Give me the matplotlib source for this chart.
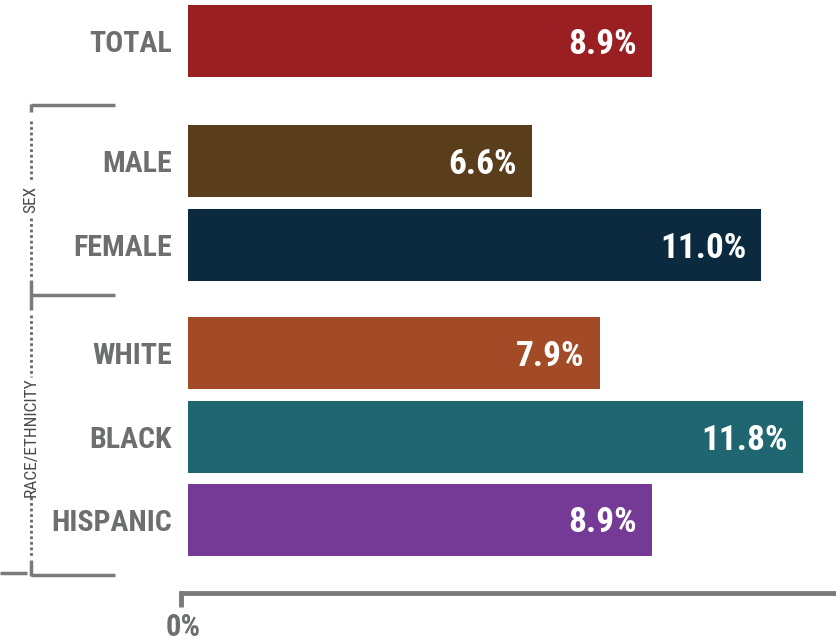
import matplotlib.pyplot as plt
from matplotlib.lines import Line2D

# prevalence by group (%)
categories = ['TOTAL', 'MALE', 'FEMALE', 'WHITE', 'BLACK', 'HISPANIC']
values = [8.9, 6.6, 11.0, 7.9, 11.8, 8.9]
value_labels = ['8.9%', '6.6%', '11.0%', '7.9%', '11.8%', '8.9%']
colors = ['#9a1f23', '#5a3d1b', '#0b2a3f', '#a34b26', '#206670', '#743a96']

# row centres (pixel rows from the top of the figure)
rows = [41, 161, 245, 353, 437, 520]

W, H = 836, 641
px_per_pct = 52.13
bar_left = 188
grey = '#6d6e70'
line_grey = '#7a7a7a'
font = ['Roboto Condensed', 'Liberation Sans Narrow', 'DejaVu Sans']
stretch = 'condensed'

fig = plt.figure(figsize=(W / 100, H / 100), dpi=100)
fig.patch.set_facecolor('white')

# bar axes: x in percent, y in pixel rows
ax = fig.add_axes([bar_left / W, 0, (W - bar_left) / W, 1])
ax.set_xlim(0, (W - bar_left) / px_per_pct)
ax.set_ylim(H, 0)
ax.axis('off')

ax.barh(rows, values, height=72, color=colors, align='center')

for y, v, lab in zip(rows, values, value_labels):
    ax.text(v - 15 / px_per_pct, y + 12.5, lab, color='white', fontsize=25.5,
            fontweight='bold', family=font, fontstretch=stretch,
            ha='right', va='baseline')

# overlay for labels, brackets and the baseline axis
ov = fig.add_axes([0, 0, 1, 1])
ov.set_xlim(0, W)
ov.set_ylim(H, 0)
ov.axis('off')
ov.patch.set_alpha(0)

for y, cat in zip(rows, categories):
    ov.text(172, y + 11, cat, color=grey, fontsize=21.5, fontweight='bold',
            family=font, fontstretch=stretch, ha='right', va='baseline')

# bottom axis
ov.add_line(Line2D([179, W], [593, 593], color=line_grey, lw=3.5, solid_capstyle='butt'))
ov.add_line(Line2D([181, 181], [591, 607], color=line_grey, lw=3.5, solid_capstyle='butt'))
ov.text(183, 636, '0%', color=grey, fontsize=22, fontweight='bold', family=font,
        fontstretch=stretch, ha='center', va='baseline')

# group brackets
bx = 31
for y in [105, 295, 575]:
    ov.add_line(Line2D([bx, 115], [y, y], color=line_grey, lw=2.5, solid_capstyle='butt'))
ov.add_line(Line2D([0, 27], [573, 573], color=line_grey, lw=2.5, solid_capstyle='butt'))

solid = [(104, 112), (280, 310), (560, 576)]
for a, b in solid:
    ov.add_line(Line2D([bx, bx], [a, b], color=line_grey, lw=2.5, solid_capstyle='butt'))

dotted = [(121, 180), (218, 278), (315, 377), (497, 557)]
for a, b in dotted:
    ov.add_line(Line2D([bx, bx], [a, b], color='#666666', lw=2,
                       linestyle=(0, (1, 1)), dash_capstyle='butt'))

ov.text(bx, 199, 'SEX', color='#4a4a4a', fontsize=12.5, family=font,
        fontstretch=stretch, rotation=90, ha='center', va='center')
ov.text(bx, 437, 'RACE/ETHNICITY', color='#4a4a4a', fontsize=12.5,
        family=font, fontstretch=stretch, rotation=90, ha='center', va='center')

fig.savefig('out.png', dpi=100, facecolor='white')
